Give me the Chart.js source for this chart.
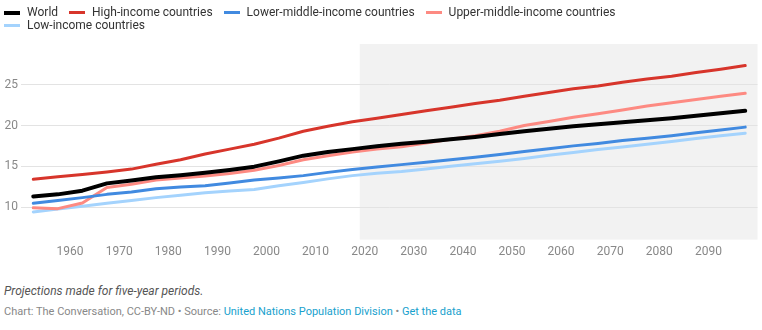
<!DOCTYPE html>
<html>
<head>
<meta charset="utf-8">
<script src="https://cdn.jsdelivr.net/npm/chart.js@4/dist/chart.umd.min.js"></script>
<style>
  html, body { margin: 0; padding: 0; background: #fff; }
  body { width: 762px; height: 330px; position: relative; overflow: hidden; font-family: Roboto, "Noto Sans", sans-serif; }
  #legend { position: absolute; left: 4px; top: 6px; width: 640px; display: flex; flex-wrap: wrap; column-gap: 11px; row-gap: 0; font-size: 12px; color: #333; line-height: 13px; }
  .item { display: flex; align-items: center; height: 13px; white-space: nowrap; }
  .sw { width: 16px; height: 3px; margin-right: 7px; }
  #wrap { position: absolute; left: 0; top: 0; width: 762px; height: 264px; }
  #note { position: absolute; left: 4px; top: 284px; font-size: 12px; font-style: italic; color: #555; line-height: 14px; white-space: nowrap; }
  #src { position: absolute; left: 4px; top: 305px; font-size: 11px; color: #888; line-height: 14px; white-space: nowrap; }
  #src a { color: #18a1cd; text-decoration: none; }
</style>
</head>
<body>
<div id="wrap"><canvas id="c"></canvas></div>
<div id="legend"></div>
<div id="note">Projections made for five-year periods.</div>
<div id="src">Chart: The Conversation, CC-BY-ND • Source: <a>United Nations Population Division</a> • <a>Get the data</a></div>
<script>
// Period midpoints (five-year periods 1950-55 ... 2095-2100)
const years = [1952.5,1957.5,1962.5,1967.5,1972.5,1977.5,1982.5,1987.5,1992.5,1997.5,
               2002.5,2007.5,2012.5,2017.5,2022.5,2027.5,2032.5,2037.5,2042.5,2047.5,
               2052.5,2057.5,2062.5,2067.5,2072.5,2077.5,2082.5,2087.5,2092.5,2097.5];
const world = [11.3,11.55,12.0,12.9,13.25,13.65,13.9,14.2,14.55,14.95,
               15.6,16.3,16.75,17.1,17.45,17.75,18.0,18.3,18.6,18.95,
               19.3,19.6,19.9,20.15,20.4,20.65,20.9,21.2,21.5,21.8];
const highIncome = [13.4,13.7,14.0,14.3,14.65,15.25,15.8,16.5,17.1,17.7,
               18.45,19.3,19.9,20.45,20.9,21.35,21.8,22.25,22.7,23.1,
               23.6,24.05,24.5,24.85,25.3,25.7,26.05,26.5,26.9,27.35];
const lowerMiddle = [10.45,10.8,11.15,11.55,11.85,12.25,12.45,12.6,12.95,13.3,
               13.55,13.85,14.25,14.6,14.9,15.2,15.5,15.8,16.1,16.45,
               16.8,17.15,17.5,17.8,18.15,18.45,18.75,19.1,19.45,19.8];
const upperMiddle = [9.9,9.8,10.5,12.4,12.8,13.3,13.55,13.8,14.1,14.5,
               15.1,15.8,16.3,16.75,17.1,17.4,17.85,18.3,18.75,19.3,
               20.0,20.5,21.0,21.45,21.9,22.4,22.8,23.2,23.6,23.95];
const lowIncome = [9.4,9.75,10.1,10.45,10.8,11.15,11.45,11.75,11.95,12.15,
               12.6,13.0,13.45,13.85,14.15,14.35,14.65,15.0,15.3,15.6,
               15.95,16.35,16.7,17.05,17.35,17.7,18.05,18.4,18.75,19.05];
const seriesNames = ["World","High-income countries","Lower-middle-income countries","Upper-middle-income countries","Low-income countries"];
const yTicks = [10,15,20,25];
const xTicks = [1960,1970,1980,1990,2000,2010,2020,2030,2040,2050,2060,2070,2080,2090];
const projectionStart = 2019;

const colors = ["#000000","#d7352b","#418ae0","#fd8a82","#a4d3fd"];
const widths = [4,3,3,3,3];
const values = [world, highIncome, lowerMiddle, upperMiddle, lowIncome];
const order = [0,1,2,3,4];

const datasets = seriesNames.map((n,i)=>({
  label: n,
  data: years.map((y,j)=>({x:y, y:values[i][j]})),
  borderColor: colors[i],
  backgroundColor: colors[i],
  borderWidth: widths[i],
  pointRadius: 0,
  tension: 0,
  borderJoinStyle: 'round',
  borderCapStyle: 'round',
  order: order[i]
}));

// HTML legend
const lg = document.getElementById('legend');
seriesNames.forEach((n,i)=>{
  const it = document.createElement('div'); it.className='item';
  const sw = document.createElement('span'); sw.className='sw'; sw.style.background=colors[i];
  if (i===0) sw.style.height='4px';
  const t = document.createElement('span'); t.textContent=n;
  it.appendChild(sw); it.appendChild(t); lg.appendChild(it);
});

const shade = {
  id: 'shade',
  beforeDraw(chart) {
    const {ctx, chartArea, scales} = chart;
    const x0 = scales.x.getPixelForValue(projectionStart);
    ctx.save();
    ctx.fillStyle = '#f2f2f2';
    ctx.fillRect(x0, chartArea.top, chartArea.right - x0, chartArea.bottom - chartArea.top);
    ctx.restore();
  }
};

new Chart(document.getElementById('c'), {
  type: 'line',
  data: { datasets },
  plugins: [shade],
  options: {
    responsive: true,
    maintainAspectRatio: false,
    animation: false,
    layout: { padding: { top: 44, right: 4.5, left: 0, bottom: 0 } },
    plugins: { legend: { display: false }, tooltip: { enabled: false } },
    scales: {
      x: {
        type: 'linear', min: 1950, max: 2100,
        afterBuildTicks: (a)=>{ a.ticks = xTicks.map(v=>({value:v})); },
        grid: { display: false, drawTicks: false },
        border: { display: false },
        ticks: { color: '#888', font: { family: 'Roboto', size: 12 }, padding: 5, maxRotation: 0, autoSkip: false,
                 callback: (v)=>String(v) }
      },
      y: {
        min: 6, max: 30,
        afterBuildTicks: (a)=>{ a.ticks = yTicks.map(v=>({value:v})); },
        afterFit: (a)=>{ a.width = 21; },
        grid: { color: '#e3e3e3', drawTicks: false, lineWidth: 1 },
        border: { display: false },
        ticks: { color: '#888', font: { family: 'Roboto', size: 12 }, padding: 3 }
      }
    }
  }
});
</script>
</body>
</html>
